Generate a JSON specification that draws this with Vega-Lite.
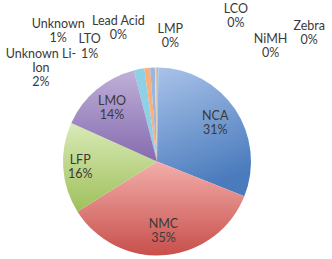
{
  "$schema": "https://vega.github.io/schema/vega-lite/v6.json",
  "autosize": {"type": "none"},
  "width": 314,
  "height": 195,
  "padding": {"left": 0, "top": 64, "right": 18, "bottom": 0},
  "background": "white",
  "view": {"stroke": null},
  "data": {
    "values": [
      {"type": "NCA", "value": 30.8},
      {"type": "NMC", "value": 35.0},
      {"type": "LFP", "value": 15.7},
      {"type": "LMO", "value": 14.3},
      {"type": "Unknown Li-Ion", "value": 1.8},
      {"type": "LTO", "value": 1.0},
      {"type": "Unknown", "value": 0.8},
      {"type": "Lead Acid", "value": 0.2},
      {"type": "LMP", "value": 0.1},
      {"type": "LCO", "value": 0.1},
      {"type": "NiMH", "value": 0.1},
      {"type": "Zebra", "value": 0.1}
    ]
  },
  "transform": [
    {"window": [{"op": "row_number", "as": "idx"}]},
    {"stack": "value", "groupby": [], "sort": [{"field": "idx", "order": "ascending"}], "as": ["v0", "v1"]},
    {"calculate": "(datum.v0 + datum.v1) / 2", "as": "mid"},
    {"calculate": "replace(datum.type, 'Li-Ion', 'Li-\\nIon') + '\\n' + format(datum.value, '.0f') + '%'", "as": "label"}
  ],
  "layer": [
    {
      "transform": [{"filter": "datum.value < 10"}],
      "mark": {"type": "arc", "outerRadius": 94, "strokeWidth": 0},
      "encoding": {
        "theta": {"field": "v0", "type": "quantitative", "stack": null, "scale": {"domain": [0, 100], "range": [0.015, 6.2982]}},
        "theta2": {"field": "v1"},
        "color": {
          "field": "type", "type": "nominal", "legend": null,
          "scale": {
            "domain": ["Unknown Li-Ion", "LTO", "Unknown", "Lead Acid", "LMP", "LCO", "NiMH", "Zebra"],
            "range": ["#8ed1e6", "#f8b07e", "#9bb5de", "#f1d9a8", "#c9a0a0", "#b3c38f", "#a898bb", "#8ab8c6"]
          }
        }
      }
    },
    {
      "transform": [{"filter": "datum.type == 'NCA'"}],
      "mark": {"type": "arc", "outerRadius": 94, "strokeWidth": 0,
        "color": {"gradient": "linear", "x1": 0, "y1": 0, "x2": 0.3, "y2": 1, "stops": [{"offset": 0, "color": "#a9c3e9"}, {"offset": 1, "color": "#4a7bbd"}]}},
      "encoding": {
        "theta": {"field": "v0", "type": "quantitative", "stack": null, "scale": {"domain": [0, 100], "range": [0.015, 6.2982]}},
        "theta2": {"field": "v1"}
      }
    },
    {
      "transform": [{"filter": "datum.type == 'NMC'"}],
      "mark": {"type": "arc", "outerRadius": 94, "strokeWidth": 0,
        "color": {"gradient": "linear", "x1": 0, "y1": 0, "x2": 0, "y2": 1, "stops": [{"offset": 0, "color": "#f2aeab"}, {"offset": 1, "color": "#c84f4b"}]}},
      "encoding": {
        "theta": {"field": "v0", "type": "quantitative", "stack": null, "scale": {"domain": [0, 100], "range": [0.015, 6.2982]}},
        "theta2": {"field": "v1"}
      }
    },
    {
      "transform": [{"filter": "datum.type == 'LFP'"}],
      "mark": {"type": "arc", "outerRadius": 94, "strokeWidth": 0,
        "color": {"gradient": "linear", "x1": 0, "y1": 0, "x2": 0, "y2": 1, "stops": [{"offset": 0, "color": "#d9eab8"}, {"offset": 1, "color": "#9fc05a"}]}},
      "encoding": {
        "theta": {"field": "v0", "type": "quantitative", "stack": null, "scale": {"domain": [0, 100], "range": [0.015, 6.2982]}},
        "theta2": {"field": "v1"}
      }
    },
    {
      "transform": [{"filter": "datum.type == 'LMO'"}],
      "mark": {"type": "arc", "outerRadius": 94, "strokeWidth": 0,
        "color": {"gradient": "linear", "x1": 0, "y1": 0, "x2": 0, "y2": 1, "stops": [{"offset": 0, "color": "#bfb0d8"}, {"offset": 1, "color": "#866baf"}]}},
      "encoding": {
        "theta": {"field": "v0", "type": "quantitative", "stack": null, "scale": {"domain": [0, 100], "range": [0.015, 6.2982]}},
        "theta2": {"field": "v1"}
      }
    },
    {
      "transform": [{"filter": "datum.value >= 10 && datum.type != 'LFP'"}],
      "mark": {"type": "text", "radius": 70, "dy": -7, "font": "Lato", "fontSize": 12.5, "color": "#3a3a3a", "lineBreak": "\n", "lineHeight": 14, "align": "center", "baseline": "middle"},
      "encoding": {
        "theta": {"field": "mid", "type": "quantitative", "stack": null, "scale": {"domain": [0, 100], "range": [0.015, 6.2982]}},
        "text": {"field": "label"}
      }
    },
    {
      "transform": [{"filter": "datum.type == 'LFP'"}],
      "mark": {"type": "text", "radius": 77, "dy": -7, "font": "Lato", "fontSize": 12.5, "color": "#3a3a3a", "lineBreak": "\n", "lineHeight": 14, "align": "center", "baseline": "middle"},
      "encoding": {
        "theta": {"field": "mid", "type": "quantitative", "stack": null, "scale": {"domain": [0, 100], "range": [0.015, 6.2982]}},
        "text": {"field": "label"}
      }
    },
    {
      "transform": [{"filter": "datum.type == 'Unknown Li-Ion'"}],
      "mark": {"type": "text", "radius": 100, "dx": -97, "dy": -9, "font": "Lato", "fontSize": 12.5, "color": "#3a3a3a", "lineBreak": "\n", "lineHeight": 14, "align": "center", "baseline": "middle"},
      "encoding": {
        "theta": {"field": "mid", "type": "quantitative", "stack": null, "scale": {"domain": [0, 100], "range": [0.015, 6.2982]}},
        "text": {"field": "label"}
      }
    },
    {
      "transform": [{"filter": "datum.type == 'LTO'"}],
      "mark": {"type": "text", "radius": 100, "dx": -57, "dy": -23.5, "font": "Lato", "fontSize": 12.5, "color": "#3a3a3a", "lineBreak": "\n", "lineHeight": 15, "align": "center", "baseline": "middle"},
      "encoding": {
        "theta": {"field": "mid", "type": "quantitative", "stack": null, "scale": {"domain": [0, 100], "range": [0.015, 6.2982]}},
        "text": {"field": "label"}
      }
    },
    {
      "transform": [{"filter": "datum.type == 'Unknown'"}],
      "mark": {"type": "text", "radius": 100, "dx": -94, "dy": -38, "font": "Lato", "fontSize": 12.5, "color": "#3a3a3a", "lineBreak": "\n", "lineHeight": 14, "align": "center", "baseline": "middle"},
      "encoding": {
        "theta": {"field": "mid", "type": "quantitative", "stack": null, "scale": {"domain": [0, 100], "range": [0.015, 6.2982]}},
        "text": {"field": "label"}
      }
    },
    {
      "transform": [{"filter": "datum.type == 'Lead Acid'"}],
      "mark": {"type": "text", "radius": 100, "dx": -37, "dy": -41, "font": "Lato", "fontSize": 12.5, "color": "#3a3a3a", "lineBreak": "\n", "lineHeight": 14, "align": "center", "baseline": "middle"},
      "encoding": {
        "theta": {"field": "mid", "type": "quantitative", "stack": null, "scale": {"domain": [0, 100], "range": [0.015, 6.2982]}},
        "text": {"field": "label"}
      }
    },
    {
      "transform": [{"filter": "datum.type == 'LMP'"}],
      "mark": {"type": "text", "radius": 100, "dx": 14, "dy": -33, "font": "Lato", "fontSize": 12.5, "color": "#3a3a3a", "lineBreak": "\n", "lineHeight": 14, "align": "center", "baseline": "middle"},
      "encoding": {
        "theta": {"field": "mid", "type": "quantitative", "stack": null, "scale": {"domain": [0, 100], "range": [0.015, 6.2982]}},
        "text": {"field": "label"}
      }
    },
    {
      "transform": [{"filter": "datum.type == 'LCO'"}],
      "mark": {"type": "text", "radius": 100, "dx": 79, "dy": -53, "font": "Lato", "fontSize": 12.5, "color": "#3a3a3a", "lineBreak": "\n", "lineHeight": 14, "align": "center", "baseline": "middle"},
      "encoding": {
        "theta": {"field": "mid", "type": "quantitative", "stack": null, "scale": {"domain": [0, 100], "range": [0.015, 6.2982]}},
        "text": {"field": "label"}
      }
    },
    {
      "transform": [{"filter": "datum.type == 'NiMH'"}],
      "mark": {"type": "text", "radius": 100, "dx": 113, "dy": -23, "font": "Lato", "fontSize": 12.5, "color": "#3a3a3a", "lineBreak": "\n", "lineHeight": 14, "align": "center", "baseline": "middle"},
      "encoding": {
        "theta": {"field": "mid", "type": "quantitative", "stack": null, "scale": {"domain": [0, 100], "range": [0.015, 6.2982]}},
        "text": {"field": "label"}
      }
    },
    {
      "transform": [{"filter": "datum.type == 'Zebra'"}],
      "mark": {"type": "text", "radius": 100, "dx": 151, "dy": -36, "font": "Lato", "fontSize": 12.5, "color": "#3a3a3a", "lineBreak": "\n", "lineHeight": 14, "align": "center", "baseline": "middle"},
      "encoding": {
        "theta": {"field": "mid", "type": "quantitative", "stack": null, "scale": {"domain": [0, 100], "range": [0.015, 6.2982]}},
        "text": {"field": "label"}
      }
    }
  ]
}
